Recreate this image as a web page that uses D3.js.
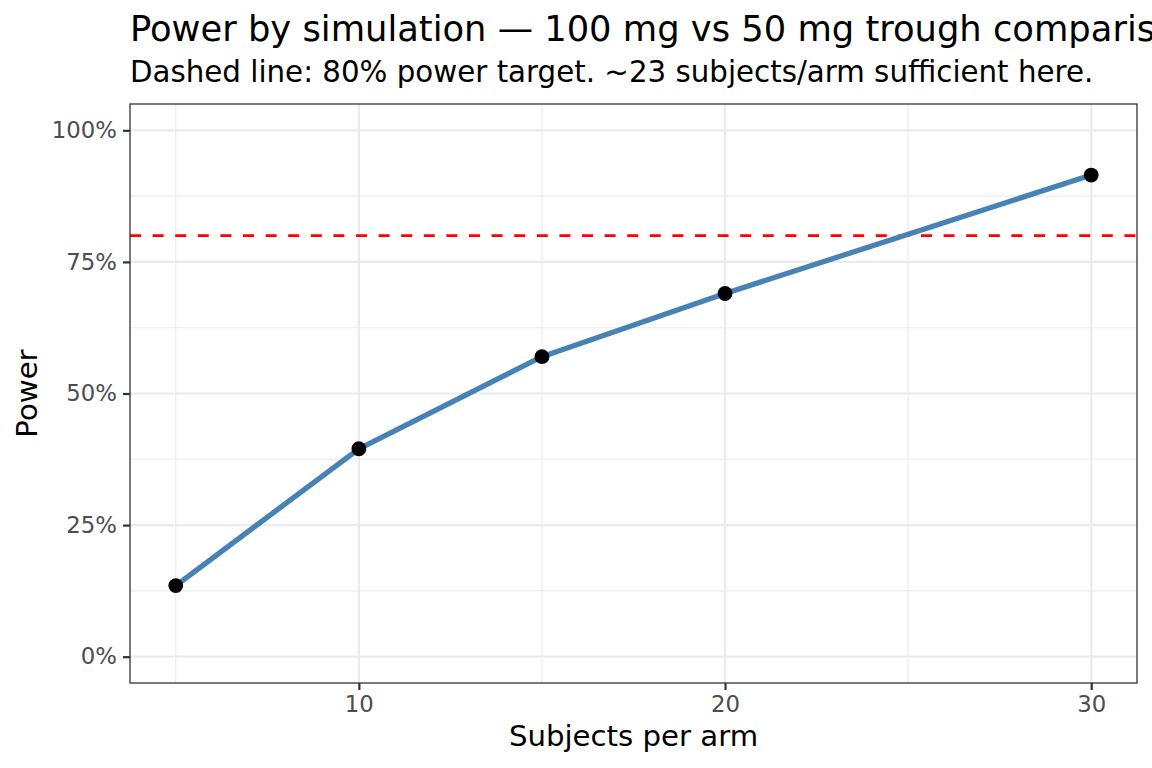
<!DOCTYPE html>
<html>
<head>
<meta charset="utf-8">
<script src="https://cdn.jsdelivr.net/npm/d3@7"></script>
<style>
  html, body { margin: 0; padding: 0; background: #fff; overflow: hidden; }
  svg { display: block; }
  text { font-family: "DejaVu Sans", sans-serif; }
</style>
</head>
<body>
<svg id="chart" width="1152" height="768"></svg>
<script>
// Data
const subjects = [5, 10, 15, 20, 30];
const power = [0.135, 0.395, 0.57, 0.69, 0.915];
const target = 0.80;
const xTicks = [10, 20, 30];
const xMinor = [5, 15, 25];
const yTicks = [0, 0.25, 0.5, 0.75, 1.0];
const yMinor = [0.125, 0.375, 0.625, 0.875];
const titleText = "Power by simulation — 100 mg vs 50 mg trough comparison";
const subtitleText = "Dashed line: 80% power target. ~23 subjects/arm sufficient here.";
const xLabel = "Subjects per arm";
const yLabel = "Power";

const svg = d3.select("#chart");
const P = { left: 130, right: 1137, top: 104, bottom: 683 };

const xr = d3.extent(subjects);
const xpad = (xr[1] - xr[0]) * 0.05;
const x = d3.scaleLinear().domain([xr[0] - xpad, xr[1] + xpad]).range([P.left, P.right]);
const y = d3.scaleLinear().domain([-0.05, 1.05]).range([P.bottom, P.top]);

svg.append("rect").attr("x", P.left).attr("y", P.top)
  .attr("width", P.right - P.left).attr("height", P.bottom - P.top)
  .attr("fill", "#fff");

const grid = svg.append("g");
grid.selectAll(".ymin").data(yMinor).join("line")
  .attr("x1", P.left).attr("x2", P.right)
  .attr("y1", d => y(d)).attr("y2", d => y(d))
  .attr("stroke", "#EBEBEB").attr("stroke-width", 1.1);
grid.selectAll(".xmin").data(xMinor).join("line")
  .attr("y1", P.top).attr("y2", P.bottom)
  .attr("x1", d => x(d)).attr("x2", d => x(d))
  .attr("stroke", "#EBEBEB").attr("stroke-width", 1.1);
grid.selectAll(".ymaj").data(yTicks).join("line")
  .attr("x1", P.left).attr("x2", P.right)
  .attr("y1", d => y(d)).attr("y2", d => y(d))
  .attr("stroke", "#EBEBEB").attr("stroke-width", 2.2);
grid.selectAll(".xmaj").data(xTicks).join("line")
  .attr("y1", P.top).attr("y2", P.bottom)
  .attr("x1", d => x(d)).attr("x2", d => x(d))
  .attr("stroke", "#EBEBEB").attr("stroke-width", 2.2);

// target line
svg.append("line")
  .attr("x1", P.left).attr("x2", P.right)
  .attr("y1", y(target)).attr("y2", y(target))
  .attr("stroke", "#FF0000").attr("stroke-width", 2.8)
  .attr("stroke-dasharray", "11,11.6");

const data = subjects.map((s, i) => ({ s, p: power[i] }));
svg.append("path").datum(data)
  .attr("fill", "none").attr("stroke", "#4682B4").attr("stroke-width", 5.3)
  .attr("stroke-linejoin", "round")
  .attr("d", d3.line().x(d => x(d.s)).y(d => y(d.p)));

svg.selectAll(".pt").data(data).join("circle")
  .attr("cx", d => x(d.s)).attr("cy", d => y(d.p)).attr("r", 7.4)
  .attr("fill", "#000");

svg.append("rect").attr("x", P.left).attr("y", P.top)
  .attr("width", P.right - P.left).attr("height", P.bottom - P.top)
  .attr("fill", "none").attr("stroke", "#333333").attr("stroke-width", 1.3);

const xAxis = svg.append("g").attr("transform", `translate(0,${P.bottom})`)
  .call(d3.axisBottom(x).tickValues(xTicks).tickSize(7).tickPadding(6).tickFormat(d3.format("d")));
const yAxis = svg.append("g").attr("transform", `translate(${P.left},0)`)
  .call(d3.axisLeft(y).tickValues(yTicks).tickSize(7).tickPadding(6).tickFormat(d => Math.round(d * 100) + "%"));
[xAxis, yAxis].forEach(a => {
  a.select(".domain").remove();
  a.selectAll(".tick line").attr("stroke", "#333333").attr("stroke-width", 2.2);
  a.selectAll(".tick text").attr("fill", "#4D4D4D").style("font-size", "22.8px")
    .style("font-family", "DejaVu Sans, sans-serif");
});

svg.append("text").attr("x", (P.left + P.right) / 2).attr("y", 746)
  .attr("text-anchor", "middle").style("font-size", "29.2px").attr("fill", "#000")
  .text(xLabel);
svg.append("text").attr("transform", `translate(37,${(P.top + P.bottom) / 2}) rotate(-90)`)
  .attr("text-anchor", "middle").style("font-size", "29.2px").attr("fill", "#000")
  .text(yLabel);

svg.append("text").attr("x", P.left).attr("y", 41)
  .style("font-size", "35.3px").attr("fill", "#000").text(titleText);
svg.append("text").attr("x", P.left).attr("y", 82)
  .style("font-size", "29.3px").attr("fill", "#000").text(subtitleText);
</script>
</body>
</html>
